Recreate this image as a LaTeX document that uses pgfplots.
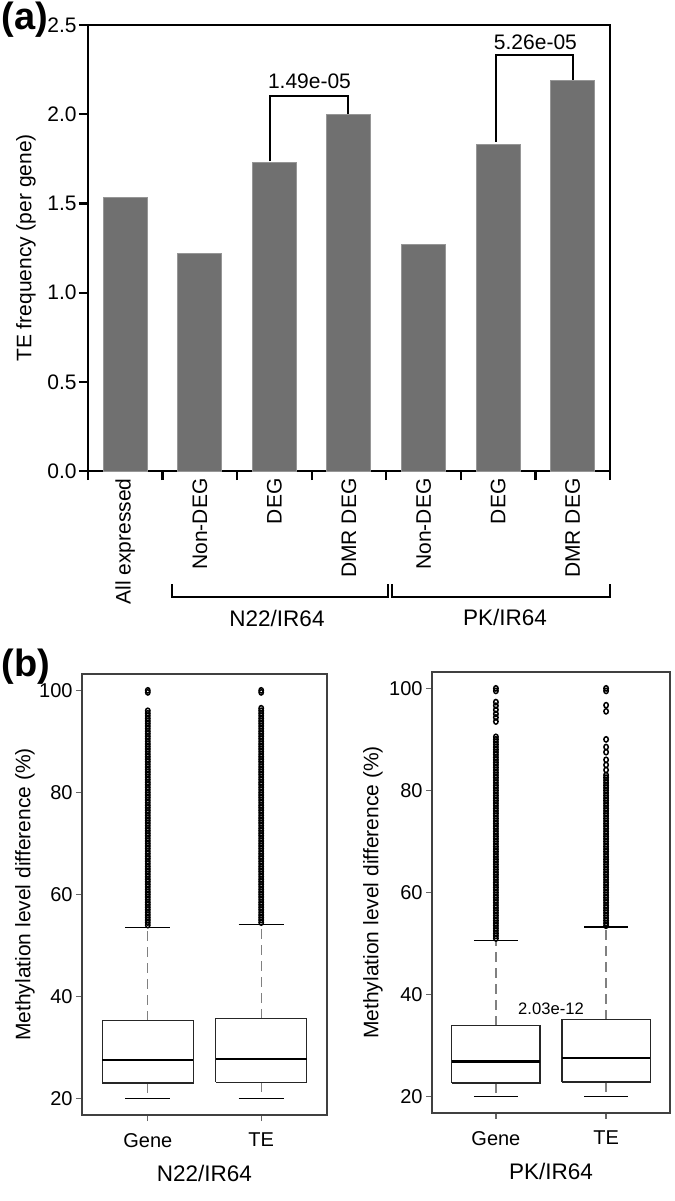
\documentclass[border=0pt]{standalone}
\usepackage{pgfplots}
\pgfplotsset{compat=1.18}
\usepackage{fontspec}
\setmainfont{Liberation Sans}
\definecolor{barfill}{RGB}{112,112,112}
\definecolor{baredge}{RGB}{150,150,150}
\newcommand{\tf}{\fontsize{10}{12}\selectfont}
\newcommand{\lf}{\fontsize{10.5}{12.5}\selectfont}
\pgfplotsset{
  boxst/.style={black!85, line width=0.65pt, mark=none},
  medst/.style={black, line width=1.1pt, mark=none},
  whst/.style={gray, line width=0.6pt, dash pattern=on 5pt off 3pt, mark=none},
  capst/.style={black, line width=0.8pt, mark=none},
  outl/.style={only marks, mark=o, mark size=1.1pt, mark options={line width=0.75pt, black, yscale=1.2}},
  bpanel/.style={
    anchor=south west, scale only axis, height=220.5pt,
    xmin=0.42, xmax=2.58, ymin=16.8, ymax=103.2,
    xtick={1,2}, xticklabels={Gene,TE},
    ytick={20,40,60,80,100},
    axis line style={black!75, line width=0.6pt},
    tick align=outside, xtick pos=bottom, ytick pos=left,
    major tick length=3pt,
    tick style={black!60, line width=0.6pt},
    tick label style={font=\tf},
    yticklabel style={inner xsep=1.5pt, /pgf/number format/assume math mode=true},
    xticklabel style={yshift=-2.5pt},
    ylabel={Methylation level difference (\%)},
    ylabel style={font=\lf, anchor=center},
    xlabel style={font=\fontsize{11.25}{13}\selectfont, at={(axis description cs:0.5,0)}, yshift=-29pt, anchor=center},
    clip=false,
  },
}
\begin{document}
\begin{tikzpicture}
\useasboundingbox (0,0) rectangle (337.5pt,-600.5pt);
% ---------------- panel (a)
\begin{axis}[
  at={(44pt,-235.5pt)}, anchor=south west,
  scale only axis, width=261pt, height=223pt,
  xmin=-0.5, xmax=6.5, ymin=0, ymax=2.5,
  ybar, bar width=22pt,
  axis line style={line width=1.1pt},
  tick style={line width=1.1pt, black},
  tick align=outside, xtick pos=bottom, ytick pos=left,
  major tick length=4.5pt,
  xtick={-0.5,0.5,1.5,2.5,3.5,4.5,5.5,6.5},
  xticklabels={},
  ytick={0,0.5,1,1.5,2,2.5},
  yticklabel style={/pgf/number format/fixed,/pgf/number format/fixed zerofill,/pgf/number format/precision=1,/pgf/number format/assume math mode=true, font=\lf, inner xsep=1pt},
  ylabel={TE frequency (per gene)},
  ylabel style={font=\lf, at={(axis description cs:-0.1188,0.5)}, rotate=0, anchor=center},
  clip=false,
]
\addplot[fill=barfill, draw=baredge, line width=0.5pt] coordinates {(0,1.535) (1,1.22) (2,1.73) (3,1.997) (4,1.267) (5,1.833) (6,2.19)};
% category labels
\node[rotate=90, anchor=east, inner sep=0pt, font=\lf] at (axis cs:0,-0.04) {All expressed};
\node[rotate=90, anchor=east, inner sep=0pt, font=\lf] at (axis cs:1,-0.04) {Non-DEG};
\node[rotate=90, anchor=east, inner sep=0pt, font=\lf] at (axis cs:2,-0.04) {DEG};
\node[rotate=90, anchor=east, inner sep=0pt, font=\lf] at (axis cs:3,-0.04) {DMR DEG};
\node[rotate=90, anchor=east, inner sep=0pt, font=\lf] at (axis cs:4,-0.04) {Non-DEG};
\node[rotate=90, anchor=east, inner sep=0pt, font=\lf] at (axis cs:5,-0.04) {DEG};
\node[rotate=90, anchor=east, inner sep=0pt, font=\lf] at (axis cs:6,-0.04) {DMR DEG};
% significance brackets
\draw[line width=1pt] (axis cs:1.94,1.735) -- (axis cs:1.94,2.10) -- (axis cs:2.99,2.10) -- (axis cs:2.99,2.0);
\node[font=\lf] at (axis cs:2.47,2.185) {1.49e-05};
\draw[line width=1pt] (axis cs:4.97,1.845) -- (axis cs:4.97,2.33) -- (axis cs:6.0,2.33) -- (axis cs:6.0,2.19);
\node[font=\lf] at (axis cs:5.5,2.405) {5.26e-05};
\end{axis}
% ---------------- panel (b) left
\begin{axis}[bpanel, at={(41pt,-557.5pt)}, width=122.5pt,
  xlabel={N22/IR64},
  ylabel style={at={(axis description cs:-0.2327,0.5)}},
]
% outliers
\addplot[outl] coordinates {(1,54)(1,54.5)(1,55)(1,55.5)(1,56)(1,56.5)(1,57)(1,57.5)(1,58)(1,58.5)(1,59)(1,59.5)(1,60)(1,60.5)(1,61)(1,61.5)(1,62)(1,62.5)(1,63)(1,63.5)(1,64)(1,64.5)(1,65)(1,65.5)(1,66)(1,66.5)(1,67)(1,67.5)(1,68)(1,68.5)(1,69)(1,69.5)(1,70)(1,70.5)(1,71)(1,71.5)(1,72)(1,72.5)(1,73)(1,73.5)(1,74)(1,74.5)(1,75)(1,75.5)(1,76)(1,76.5)(1,77)(1,77.5)(1,78)(1,78.5)(1,79)(1,79.5)(1,80)(1,80.5)(1,81)(1,81.5)(1,82)(1,82.5)(1,83)(1,83.5)(1,84)(1,84.5)(1,85)(1,85.5)(1,86)(1,86.5)(1,87)(1,87.5)(1,88)(1,88.5)(1,89)(1,89.5)(1,90)(1,90.5)(1,91)(1,91.5)(1,92)(1,92.5)(1,93)(1,93.5)(1,94)(1,94.5)(1,95)(1,95.5)(1,96)(1,99.6)(1,100)};
\addplot[outl] coordinates {(2,54.5)(2,55)(2,55.5)(2,56)(2,56.5)(2,57)(2,57.5)(2,58)(2,58.5)(2,59)(2,59.5)(2,60)(2,60.5)(2,61)(2,61.5)(2,62)(2,62.5)(2,63)(2,63.5)(2,64)(2,64.5)(2,65)(2,65.5)(2,66)(2,66.5)(2,67)(2,67.5)(2,68)(2,68.5)(2,69)(2,69.5)(2,70)(2,70.5)(2,71)(2,71.5)(2,72)(2,72.5)(2,73)(2,73.5)(2,74)(2,74.5)(2,75)(2,75.5)(2,76)(2,76.5)(2,77)(2,77.5)(2,78)(2,78.5)(2,79)(2,79.5)(2,80)(2,80.5)(2,81)(2,81.5)(2,82)(2,82.5)(2,83)(2,83.5)(2,84)(2,84.5)(2,85)(2,85.5)(2,86)(2,86.5)(2,87)(2,87.5)(2,88)(2,88.5)(2,89)(2,89.5)(2,90)(2,90.5)(2,91)(2,91.5)(2,92)(2,92.5)(2,93)(2,93.5)(2,94)(2,94.5)(2,95)(2,95.5)(2,96)(2,96.5)(2,99.6)(2,100)};
% Gene box
\addplot[whst] coordinates {(1,35.3) (1,53.5)};
\addplot[whst] coordinates {(1,23.1) (1,20)};
\addplot[capst] coordinates {(0.8,53.5) (1.2,53.5)};
\addplot[capst] coordinates {(0.8,20) (1.2,20)};
\addplot[boxst, fill=white] coordinates {(0.6,23.1) (1.4,23.1) (1.4,35.3) (0.6,35.3) (0.6,23.1)};
\addplot[medst] coordinates {(0.6,27.6) (1.4,27.6)};
% TE box
\addplot[whst] coordinates {(2,35.7) (2,54.1)};
\addplot[whst] coordinates {(2,23.2) (2,20)};
\addplot[capst] coordinates {(1.8,54.1) (2.2,54.1)};
\addplot[capst] coordinates {(1.8,20) (2.2,20)};
\addplot[boxst, fill=white] coordinates {(1.6,23.2) (2.4,23.2) (2.4,35.7) (1.6,35.7) (1.6,23.2)};
\addplot[medst] coordinates {(1.6,27.8) (2.4,27.8)};
\end{axis}
% ---------------- panel (b) right
\begin{axis}[bpanel, at={(216pt,-556.5pt)}, width=119pt,
  xlabel={PK/IR64},
  ylabel style={at={(axis description cs:-0.248,0.5)}},
]
\addplot[outl] coordinates {(1,51)(1,51.5)(1,52)(1,52.5)(1,53)(1,53.5)(1,54)(1,54.5)(1,55)(1,55.5)(1,56)(1,56.5)(1,57)(1,57.5)(1,58)(1,58.5)(1,59)(1,59.5)(1,60)(1,60.5)(1,61)(1,61.5)(1,62)(1,62.5)(1,63)(1,63.5)(1,64)(1,64.5)(1,65)(1,65.5)(1,66)(1,66.5)(1,67)(1,67.5)(1,68)(1,68.5)(1,69)(1,69.5)(1,70)(1,70.5)(1,71)(1,71.5)(1,72)(1,72.5)(1,73)(1,73.5)(1,74)(1,74.5)(1,75)(1,75.5)(1,76)(1,76.5)(1,77)(1,77.5)(1,78)(1,78.5)(1,79)(1,79.5)(1,80)(1,80.5)(1,81)(1,81.5)(1,82)(1,82.5)(1,83)(1,83.5)(1,84)(1,84.5)(1,85)(1,85.5)(1,86)(1,86.5)(1,87)(1,87.5)(1,88)(1,88.5)(1,89)(1,89.5)(1,90)(1,90.5)(1,93.5)(1,94.3)(1,95)(1,95.8)(1,96.6)(1,97.3)(1,99.5)(1,100)};
\addplot[outl] coordinates {(2,53.5)(2,54)(2,54.5)(2,55)(2,55.5)(2,56)(2,56.5)(2,57)(2,57.5)(2,58)(2,58.5)(2,59)(2,59.5)(2,60)(2,60.5)(2,61)(2,61.5)(2,62)(2,62.5)(2,63)(2,63.5)(2,64)(2,64.5)(2,65)(2,65.5)(2,66)(2,66.5)(2,67)(2,67.5)(2,68)(2,68.5)(2,69)(2,69.5)(2,70)(2,70.5)(2,71)(2,71.5)(2,72)(2,72.5)(2,73)(2,73.5)(2,74)(2,74.5)(2,75)(2,75.5)(2,76)(2,76.5)(2,77)(2,77.5)(2,78)(2,78.5)(2,79)(2,79.5)(2,80)(2,80.5)(2,81)(2,81.5)(2,82)(2,82.5)(2,83)(2,84)(2,85)(2,86)(2,87.5)(2,88.5)(2,90)(2,95.5)(2,96.7)(2,99.5)(2,100)};
% Gene box
\addplot[whst] coordinates {(1,33.9) (1,50.6)};
\addplot[whst] coordinates {(1,22.7) (1,20)};
\addplot[capst] coordinates {(0.8,50.6) (1.2,50.6)};
\addplot[capst] coordinates {(0.8,20) (1.2,20)};
\addplot[boxst, fill=white] coordinates {(0.6,22.7) (1.4,22.7) (1.4,33.9) (0.6,33.9) (0.6,22.7)};
\addplot[medst] coordinates {(0.6,26.9) (1.4,26.9)};
% TE box
\addplot[whst] coordinates {(2,35.1) (2,53.3)};
\addplot[whst] coordinates {(2,22.9) (2,20)};
\addplot[capst] coordinates {(1.8,53.3) (2.2,53.3)};
\addplot[capst] coordinates {(1.8,20) (2.2,20)};
\addplot[boxst, fill=white] coordinates {(1.6,22.9) (2.4,22.9) (2.4,35.1) (1.6,35.1) (1.6,22.9)};
\addplot[medst] coordinates {(1.6,27.5) (2.4,27.5)};
\node[font=\fontsize{8.3}{10}\selectfont] at (axis cs:1.5,37.3) {2.03e-12};
\end{axis}
% ---------------- annotations in pixel units
\begin{scope}[x=0.5pt, y=-0.5pt]
\node[anchor=north west, inner sep=0pt, font=\fontsize{19}{19}\bfseries] at (1,2) {(a)};
\node[anchor=north west, inner sep=0pt, font=\fontsize{19}{19}\bfseries] at (1,649) {(b)};
\draw[line width=1pt] (172,584) -- (172,597) -- (388,597) -- (388,584);
\draw[line width=1pt] (392,584) -- (392,597) -- (610,597) -- (610,584);
\node[font=\fontsize{11.25}{13}\selectfont] at (277,618) {N22/IR64};
\node[font=\fontsize{11.25}{13}\selectfont] at (505,617) {PK/IR64};
\end{scope}
\end{tikzpicture}
\end{document}
